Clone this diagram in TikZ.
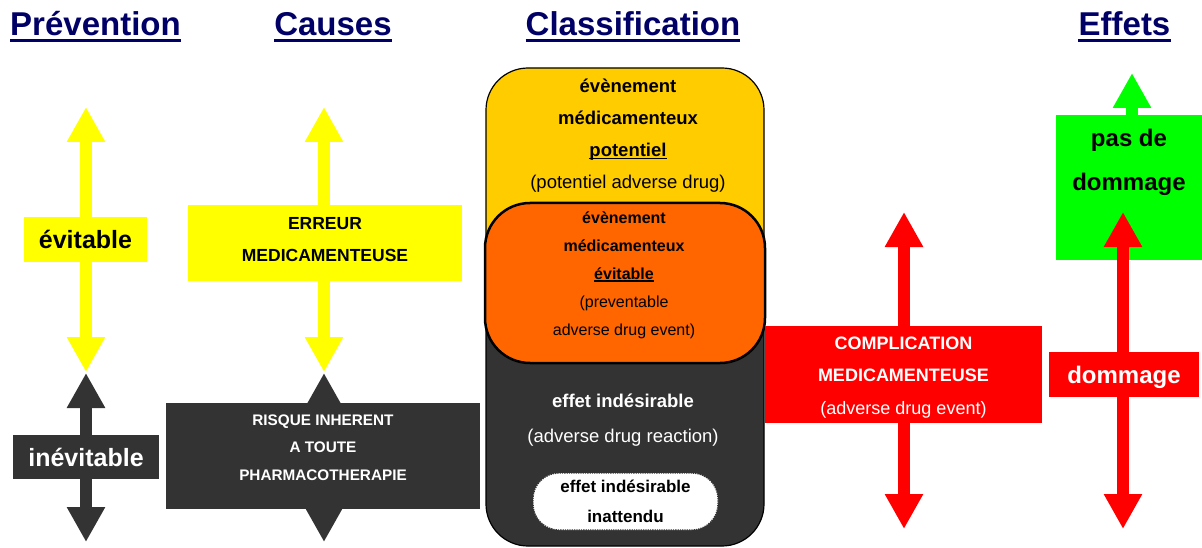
\documentclass[tikz,border=0pt]{standalone}
\usepackage{fontspec}
\setmainfont{Liberation Sans}
\usetikzlibrary{arrows.meta}
\definecolor{navy}{HTML}{000066}
\definecolor{charcoal}{HTML}{333333}
\definecolor{gold}{HTML}{FFCC00}
\definecolor{pumpkin}{HTML}{FF6600}
\definecolor{lime}{HTML}{00FF00}
\definecolor{sun}{HTML}{FFFF00}
\definecolor{scarlet}{HTML}{FF0000}
% thick underline for a single word
\newcommand\ulword[1]{\setbox0\hbox{#1}\leavevmode\rlap{\rule[-2.5pt]{\wd0}{1.5pt}}\box0}
\newcommand\fs[2]{\fontsize{#1}{#2}\selectfont}

\begin{document}
\begin{tikzpicture}[x=1pt,y=-1pt,
  dbl/.style={line width=12pt, draw=#1,
    arrows={Triangle[width=36pt,length=35pt]-Triangle[width=36pt,length=35pt]}},
  upone/.style={line width=12pt, draw=#1, arrows={-Triangle[width=36pt,length=35pt]}},
  title/.style={font=\fs{33}{40}\bfseries, text=navy, inner sep=0pt, anchor=base},
  ubar/.style={navy, line width=3pt},
  block/.style={rectangle, inner sep=0pt, draw=none},
  txt/.style={inner sep=0pt, align=center},
  roundbox/.style={rectangle, inner sep=0pt, draw=black, rounded corners=#1},
]
\fill[white] (0,0) rectangle (1202,548);
\useasboundingbox (0,0) rectangle (1202,548);

% ---------------- headings ----------------
\node[title] (tPrev)  at (95.5,35.5)  {Prévention};
\node[title] (tCause) at (333,35.5)   {Causes};
\node[title] (tClass) at (633,35.5)   {Classification};
\node[title] (tEff)   at (1124.5,35.5){Effets};
\foreach \t in {tPrev,tCause,tClass,tEff}
  \draw[ubar] ([yshift=-5.5pt]\t.base west) -- ([yshift=-5.5pt]\t.base east);

% ---------------- Prévention ----------------
\coordinate (pvTop) at (86,107);
\coordinate (pvMidA) at (86,372);
\coordinate (pvMidB) at (86,373);
\coordinate (pvBot) at (86,542);
\draw[dbl=sun] (pvTop) -- (pvMidA);
\draw[dbl=charcoal] (pvMidB) -- (pvBot);
\node[block, fill=sun, minimum width=123, minimum height=45,
      font=\fs{25}{30}\bfseries] (evit) at (85.5,239.5) {évitable};
\node[block, fill=charcoal, minimum width=146, minimum height=44,
      font=\fs{25}{30}\bfseries, text=white] (inevit) at (86,457) {inévitable};

% ---------------- Causes ----------------
\coordinate (caTop) at (324,107);
\coordinate (caMidA) at (324,372);
\coordinate (caMidB) at (324,373);
\coordinate (caBot) at (324,542);
\draw[dbl=sun] (caTop) -- (caMidA);
\draw[dbl=charcoal] (caMidB) -- (caBot);
\node[block, fill=sun, minimum width=274, minimum height=76] (erreur) at (325,243) {};
\node[txt, font=\fs{17.5}{32}\bfseries] (erreurTxt) at (325,240)
  {ERREUR\\MEDICAMENTEUSE};
\node[block, fill=charcoal, minimum width=314, minimum height=106] (risque) at (323,456) {};
\node[txt, font=\fs{15.3}{27.5}\bfseries, text=white] (risqueTxt) at (323,447.5)
  {RISQUE INHERENT\\A TOUTE\\PHARMACOTHERAPIE};

% ---------------- Classification ----------------
\node[roundbox=42, fill=charcoal, line width=1.2pt, minimum width=278, minimum height=296]
  (ei) at (625,398) {};
\node[roundbox=42, fill=gold, line width=1.2pt, minimum width=278, minimum height=262]
  (emp) at (625,199) {};
\node[roundbox=45, fill=pumpkin, line width=2.5pt, minimum width=280, minimum height=160]
  (eme) at (625,283) {};
\node[txt, font=\fs{18.5}{32}\bfseries] (empTxt) at (628,136)
  {évènement\\médicamenteux\\\ulword{potentiel}\\\mdseries(potentiel adverse drug)};
\node[txt, font=\fs{16}{28}\bfseries] (emeTxt) at (624,275)
  {évènement\\médicamenteux\\\ulword{évitable}\\\mdseries(preventable\\\mdseries adverse drug event)};
\node[txt, font=\fs{18.5}{35}\bfseries, text=white] (eiTxt) at (623,420)
  {effet indésirable\\\mdseries(adverse drug reaction)};
\node[rectangle, draw=black!80, densely dotted, line width=1.3pt, fill=white,
      rounded corners=26, minimum width=185, minimum height=57, inner sep=0pt,
      align=center, font=\fs{17}{30}\bfseries] (eia) at (625.5,501.5)
  {effet indésirable\\inattendu};

% ---------------- Complication ----------------
\coordinate (coTop) at (904,212);
\coordinate (coBot) at (904,529);
\draw[dbl=scarlet] (coTop) -- (coBot);
\node[block, fill=scarlet, minimum width=277, minimum height=97] (compl) at (903.5,374.5) {};
\node[txt, text=white, font=\fs{18}{32.5}\bfseries] (complTxt) at (903.5,377.5)
  {COMPLICATION\\MEDICAMENTEUSE\\\mdseries(adverse drug event)};

% ---------------- Effets ----------------
\coordinate (gnBase) at (1132,150);
\coordinate (gnTop) at (1132,73);
\draw[upone=lime] (gnBase) -- (gnTop);
\node[block, fill=lime, minimum width=146, minimum height=145] (nodam) at (1129,187.5) {};
\node[txt, font=\fs{24}{44}\bfseries] (nodamTxt) at (1129,162) {pas de\\dommage};
\coordinate (efTop) at (1123,212);
\coordinate (efBot) at (1123,529);
\draw[dbl=scarlet] (efTop) -- (efBot);
\node[block, fill=scarlet, minimum width=150, minimum height=45] (dam) at (1124,374.5) {};
\node[txt, text=white, font=\fs{24}{30}\bfseries] (damTxt) at (1124,377) {dommage};
\end{tikzpicture}
\end{document}
